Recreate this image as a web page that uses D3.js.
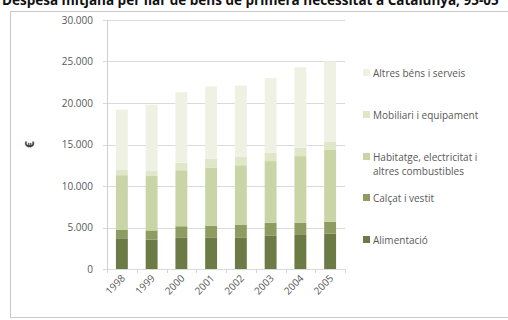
<!DOCTYPE html>
<html>
<head>
<meta charset="utf-8">
<script src="https://cdn.jsdelivr.net/npm/d3@7"></script>
<style>
  body { margin: 0; background: #fff; }
  text { font-family: "Open Sans", "DejaVu Sans", sans-serif; }
</style>
</head>
<body>
<div id="chart"></div>
<script>
var years = ["1998", "1999", "2000", "2001", "2002", "2003", "2004", "2005"];
var keys = ["Alimentació", "Calçat i vestit", "Habitatge, electricitat i altres combustibles", "Mobiliari i equipament", "Altres béns i serveis"];

var alimentacio = [3700, 3550, 3750, 3750, 3750, 4050, 4100, 4250];
var calcat = [1050, 1100, 1400, 1450, 1550, 1500, 1450, 1450];
var habitatge = [6550, 6550, 6750, 7000, 7200, 7450, 8050, 8700];
var mobiliari = [700, 600, 900, 1100, 1000, 1000, 1000, 900];
var altres = [7200, 8000, 8500, 8700, 8600, 9000, 9700, 9700];

var yTicks = [0, 5000, 10000, 15000, 20000, 25000, 30000];

function init() {
    var width = 508, height = 320;
    var seriesData = [alimentacio, calcat, habitatge, mobiliari, altres];

    // one row per year for d3.stack
    var dataset = years.map(function (y, i) {
        var row = { year: y };
        keys.forEach(function (k, j) { row[k] = seriesData[j][i]; });
        return row;
    });

    var series = d3.stack().keys(keys)(dataset);

    var colors = ["#6c7a45", "#8e9c62", "#c9d5a6", "#dfe7c8", "#eff2e3"];

    var x = d3.scaleBand()
        .domain(years)
        .range([107, 345])
        .paddingInner(0.6)
        .paddingOuter(0.3);

    var y = d3.scaleLinear()
        .domain([0, 30000])
        .range([269, 20]);

    var svg = d3.select("#chart")
        .append("svg")
        .attr("width", width)
        .attr("height", height);

    // title, cut at the top edge as in the original
    svg.append("text")
        .attr("x", 2)
        .attr("y", 5)
        .attr("font-size", 13.5)
        .attr("font-weight", "bold")
        .attr("fill", "#111")
        .text("Despesa mitjana per llar de béns de primera necessitat a Catalunya, 95-05");

    // chart frame
    svg.append("rect")
        .attr("x", 10.5)
        .attr("y", 11.5)
        .attr("width", 510)
        .attr("height", 306)
        .attr("fill", "none")
        .attr("stroke", "#c8c8c8");

    // gridlines
    svg.append("g")
        .selectAll("line")
        .data(yTicks)
        .enter()
        .append("line")
        .attr("x1", 103)
        .attr("x2", 345)
        .attr("y1", d => Math.round(y(d)) + 0.5)
        .attr("y2", d => Math.round(y(d)) + 0.5)
        .attr("stroke", "#dadada");

    // y axis line
    svg.append("line")
        .attr("x1", 107.5).attr("x2", 107.5)
        .attr("y1", y(30000)).attr("y2", y(0))
        .attr("stroke", "#cfcfcf");

    // y tick labels
    var fmt = d3.format(",");
    svg.append("g")
        .selectAll("text")
        .data(yTicks)
        .enter()
        .append("text")
        .attr("x", 93)
        .attr("y", d => y(d) + 3.5)
        .attr("text-anchor", "end")
        .attr("font-size", 10)
        .attr("fill", "#595959")
        .text(d => fmt(d).replace(/,/g, "."));

    // y axis title
    svg.append("text")
        .attr("transform", "translate(34," + y(15000) + ") rotate(-90)")
        .attr("text-anchor", "middle")
        .attr("font-size", 12)
        .attr("font-weight", "bold")
        .attr("fill", "#404040")
        .text("€");

    // bars
    var groups = svg.selectAll("g.layer")
        .data(series)
        .enter()
        .append("g")
        .attr("class", "layer")
        .style("fill", (d, i) => colors[i]);

    groups.selectAll("rect")
        .data(d => d)
        .enter()
        .append("rect")
        .attr("x", d => x(d.data.year))
        .attr("y", d => y(d[1]))
        .attr("height", d => y(d[0]) - y(d[1]))
        .attr("width", x.bandwidth());

    // x tick marks between categories
    var catW = (345 - 107) / years.length;
    svg.append("g")
        .selectAll("line")
        .data(d3.range(years.length + 1))
        .enter()
        .append("line")
        .attr("x1", i => 107.5 + Math.round(i * catW))
        .attr("x2", i => 107.5 + Math.round(i * catW))
        .attr("y1", 269)
        .attr("y2", 273)
        .attr("stroke", "#d5d5d5");

    // x labels rotated
    svg.append("g")
        .selectAll("text")
        .data(years)
        .enter()
        .append("text")
        .attr("transform", d => "translate(" + (x(d) + x.bandwidth() / 2 + 4) + ",279) rotate(-45)")
        .attr("text-anchor", "end")
        .attr("font-size", 10)
        .attr("fill", "#595959")
        .text(d => d);

    // legend (top to bottom: reversed stack order)
    var legendItems = [
        { idx: 4, lines: ["Altres béns i serveis"], y: 73 },
        { idx: 3, lines: ["Mobiliari i equipament"], y: 115 },
        { idx: 2, lines: ["Habitatge, electricitat i", "altres combustibles"], y: 157 },
        { idx: 1, lines: ["Calçat i vestit"], y: 198 },
        { idx: 0, lines: ["Alimentació"], y: 240 }
    ];

    var lg = svg.append("g")
        .selectAll("g")
        .data(legendItems)
        .enter()
        .append("g");

    lg.append("rect")
        .attr("x", 363)
        .attr("y", d => d.y - 4)
        .attr("width", 7)
        .attr("height", 7)
        .attr("fill", d => colors[d.idx]);

    lg.each(function (d) {
        var t = d3.select(this).append("text")
            .attr("font-size", 10)
            .attr("fill", "#595959");
        d.lines.forEach(function (l, i) {
            t.append("tspan")
                .attr("x", 373)
                .attr("y", d.y + 3.5 + i * 14)
                .text(l);
        });
    });
}

init();
</script>
</body>
</html>
